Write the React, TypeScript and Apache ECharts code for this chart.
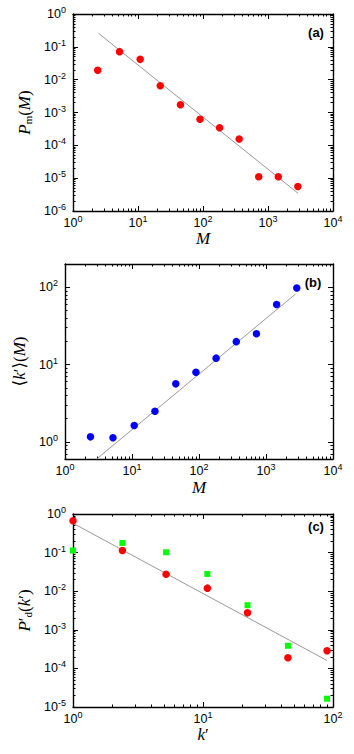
import React, { useEffect, useRef } from 'react';
import * as echarts from 'echarts';

// ---- data ----
const M = [2.4, 5.2, 10.8, 22, 45, 90, 180, 360, 720, 1440, 2880];
const Pm = [0.0192, 0.0713, 0.0416, 0.00656, 0.00173, 6.2e-4, 3.45e-4, 1.56e-4, 1.11e-5, 1.11e-5, 5.6e-6];
const kMean = [1.16, 1.13, 1.63, 2.49, 5.63, 7.94, 12.1, 19.8, 25.0, 60.0, 98.0];
const kPrime = [1, 2.4, 5.2, 10.8, 22, 45, 90];
const PdRed = [0.67, 0.113, 0.0275, 0.012, 0.00275, 1.89e-4, 2.86e-4];
const PdGreen = [0.113, 0.178, 0.102, 0.028, 0.00434, 3.86e-4, 1.64e-5];

const fitAx = [2.47, 2900];
const fitAy = [0.258, 3.46e-6];
const fitBx = [2.97, 2770];
const fitBy = [0.6, 82];
const fitCx = [1, 90];
const fitCy = [0.575, 1.6e-4];

// tick labels (powers of ten)
const xTicksAB = [1, 10, 100, 1000, 10000];
const yTicksA = [1e-6, 1e-5, 1e-4, 1e-3, 1e-2, 1e-1, 1];
const yTicksB = [1, 10, 100];
const xTicksC = [1, 10, 100];
const yTicksC = [1e-5, 1e-4, 1e-3, 1e-2, 1e-1, 1];

const SANS = '"Liberation Sans", Arial, Helvetica, sans-serif';
const SERIF = '"Liberation Serif", "DejaVu Serif", "Times New Roman", serif';

function minorTicks(lo: number, hi: number, min: number, max: number) {
  const out: number[] = [];
  for (let e = lo; e < hi; e++) {
    for (let m = 2; m <= 9; m++) {
      const v = m * Math.pow(10, e);
      if (v > min * 1.0001 && v < max * 0.9999) out.push(v);
    }
  }
  return out;
}

const tickRich = {
  b: { fontFamily: SANS, fontSize: 12.5, color: '#000', lineHeight: 17 },
  s: { fontFamily: SANS, fontSize: 9, color: '#000', lineHeight: 7, verticalAlign: 'top' },
};

const fmt = (v: number) => {
  const e = Math.round(Math.log10(v));
  return `{b|10}{s|${e}}`;
};

const nameRich = {
  i: { fontFamily: SERIF, fontStyle: 'italic', fontSize: 17, color: '#000' },
  n: { fontFamily: SERIF, fontSize: 17, color: '#000' },
  sub: { fontFamily: SERIF, fontSize: 11, color: '#000', verticalAlign: 'bottom', lineHeight: 14 },
};

interface AxisCfg {
  min: number;
  max: number;
  major: number[];
  minor: number[];
  name: string;
  nameGap: number;
}

function axesFor(dim: 'x' | 'y', grid: number, c: AxisCfg) {
  const posA = dim === 'x' ? 'bottom' : 'left';
  const posB = dim === 'x' ? 'top' : 'right';
  const base = (position: string) => ({
    type: 'log',
    logBase: 10,
    gridIndex: grid,
    position,
    min: c.min,
    max: c.max,
    splitLine: { show: false },
    axisLine: { show: true, lineStyle: { color: '#000', width: 1.4 } },
    axisTick: { show: false },
    axisLabel: { show: false },
  });
  const majorTick = { show: true, inside: true, length: 5, customValues: c.major, lineStyle: { color: '#000', width: 1 } };
  const minorTick = { show: true, inside: true, length: 2.5, customValues: c.minor, lineStyle: { color: '#000', width: 1 } };
  const primary = {
    ...base(posA),
    axisTick: majorTick,
    axisLabel: {
      show: true,
      customValues: c.major,
      formatter: fmt,
      rich: tickRich,
      margin: dim === 'x' ? 3 : 7,
    },
    name: c.name,
    nameLocation: 'middle',
    nameGap: c.nameGap,
    nameTextStyle: { rich: nameRich },
  };
  const mirror = { ...base(posB), axisTick: majorTick };
  const minA = { ...base(posA), axisLine: { show: false }, axisTick: minorTick };
  const minB = { ...base(posB), axisLine: { show: false }, axisTick: minorTick };
  return [primary, mirror, minA, minB];
}

const pairs = (xs: number[], ys: number[]) => xs.map((x, i) => [x, ys[i]]);

export default function App() {
  const ref = useRef<HTMLDivElement>(null);
  useEffect(() => {
    if (!ref.current) return;
    const chart = echarts.init(ref.current, undefined, { renderer: 'svg' });

    const xAxis = [
      ...axesFor('x', 0, { min: 1, max: 10000, major: xTicksAB, minor: minorTicks(0, 4, 1, 10000), name: '{i|M}', nameGap: 19 }),
      ...axesFor('x', 1, { min: 1, max: 10000, major: xTicksAB, minor: minorTicks(0, 4, 1, 10000), name: '{i|M}', nameGap: 20 }),
      ...axesFor('x', 2, { min: 1, max: 100, major: xTicksC, minor: minorTicks(0, 2, 1, 100), name: '{i|k}{n|′}', nameGap: 18 }),
    ];
    const yAxis = [
      ...axesFor('y', 0, { min: 1e-6, max: 1, major: yTicksA, minor: minorTicks(-6, 0, 1e-6, 1), name: '{i|P}{sub|m}{n|(}{i|M}{n|)}', nameGap: 40 }),
      ...axesFor('y', 1, { min: 0.6, max: 200, major: yTicksB, minor: minorTicks(-1, 3, 0.6, 200), name: '{n|⟨}{i|k}{n|′⟩(}{i|M}{n|)}', nameGap: 30 }),
      ...axesFor('y', 2, { min: 1e-5, max: 1, major: yTicksC, minor: minorTicks(-5, 0, 1e-5, 1), name: '{i|P}{n|′}{sub|d}{n|(}{i|k}{n|′)}', nameGap: 40 }),
    ];

    const fit = (xi: number, yi: number, xs: number[], ys: number[]) => ({
      type: 'line',
      xAxisIndex: xi,
      yAxisIndex: yi,
      data: pairs(xs, ys),
      symbol: 'none',
      silent: true,
      lineStyle: { color: '#999', width: 1 },
      z: 1,
    });
    const pts = (xi: number, yi: number, xs: number[], ys: number[], color: string, symbol: string, size: number) => ({
      type: 'scatter',
      xAxisIndex: xi,
      yAxisIndex: yi,
      data: pairs(xs, ys),
      symbol,
      symbolSize: size,
      clip: false,
      itemStyle: { color, opacity: 1 },
      z: 3,
    });

    const label = (text: string, x: number, y: number) => ({
      type: 'text',
      x,
      y,
      style: {
        text,
        font: `bold 13px ${SANS}`,
        fill: '#000',
        align: 'center',
        verticalAlign: 'middle',
        textAlign: 'center',
        textVerticalAlign: 'middle',
      },
    });

    chart.setOption({
      animation: false,
      backgroundColor: '#fff',
      grid: [
        { left: 73, top: 14, width: 260, height: 197 },
        { left: 65, top: 264, width: 268, height: 195 },
        { left: 73, top: 514, width: 260, height: 193 },
      ],
      xAxis,
      yAxis,
      series: [
        fit(0, 0, fitAx, fitAy),
        pts(0, 0, M, Pm, '#ff0000', 'circle', 7.5),
        fit(4, 4, fitBx, fitBy),
        pts(4, 4, M, kMean, '#0000ff', 'circle', 7.5),
        fit(8, 8, fitCx, fitCy),
        pts(8, 8, kPrime, PdGreen, '#00ff00', 'rect', 6),
        pts(8, 8, kPrime, PdRed, '#ff0000', 'circle', 7.5),
      ],
      graphic: [label('(a)', 316, 32), label('(b)', 313, 282), label('(c)', 316, 526)],
    });
    return () => chart.dispose();
  }, []);
  return <div ref={ref} style={{ position: 'absolute', left: 0, top: 0, width: 354, height: 754 }} />;
}
